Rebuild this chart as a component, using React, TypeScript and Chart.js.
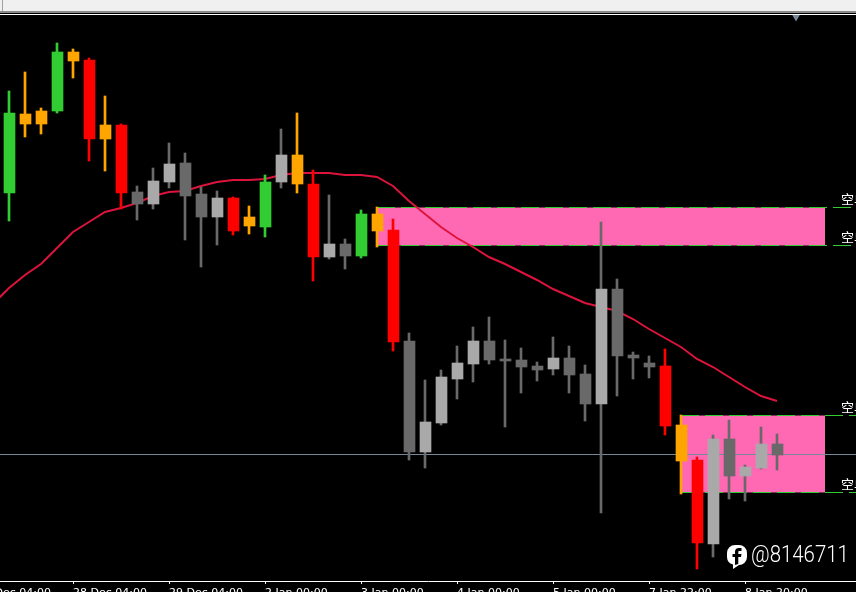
import React, { useEffect, useRef } from "react";
import { Chart, registerables } from "chart.js";

Chart.register(...registerables);

const LIME = "#32cd32";
const ORANGE = "#ffa500";
const RED = "#ff0000";
const DIM = "#696969";
const DARK = "#a9a9a9";
const CRIMSON = "#dc143c";
const SLATE = "#778899";

const bodyHigh = [468,467,470,529,529,521,456,456,389,400,417,418,387,383,383,364,399,426,426,397,337,337,367,367,351,240,159,204,218,240,240,222,221,215,223,223,207,292,292,226,218,215,156,121,142,142,114,137,137];
const bodyLow = [388,457,457,470,520,442,442,388,377,377,399,385,364,364,350,355,354,399,397,324,324,325,325,350,239,129,129,158,202,217,221,220,214,211,212,206,177,177,225,223,214,155,120,38,37,105,105,113,126];
const wickHigh = [490,509,473,538,532,523,485,457,395,413,438,428,394,390,384,375,406,452,468,411,386,342,371,374,362,248,201,211,235,254,264,241,233,219,244,235,216,359,302,229,225,232,166,124,146,161,116,154,147];
const wickLow = [360,444,447,468,503,420,410,372,361,372,393,341,314,336,346,347,344,393,388,300,322,312,323,334,230,121,113,156,182,199,217,154,188,200,206,188,160,68,185,202,203,146,87,12,24,82,80,112,111];
const candleColors = [LIME,ORANGE,ORANGE,LIME,ORANGE,RED,ORANGE,RED,DIM,DARK,DARK,DIM,DIM,DARK,RED,ORANGE,LIME,DARK,ORANGE,RED,DARK,DIM,LIME,ORANGE,RED,DIM,DARK,DARK,DARK,DARK,DIM,DIM,DIM,DIM,DARK,DIM,DIM,DARK,DIM,DIM,DIM,RED,ORANGE,RED,DARK,DIM,DARK,DARK,DIM];
const movingAverage = [277,293,306,317,333,349,359,369,373,378,385,389,390,395,399,401,401,402,406,408,408,408,406,406,404,395,380,367,354,343,334,324,317,309,301,292,285,278,274,270,262,252,243,234,222,214,204,194,185,180];

const tickIndexes = [-2, 4, 10, 16, 22, 28, 34, 40, 46];
const tickLabels = ["27 Dec 04:00","28 Dec 04:00","29 Dec 04:00","2 Jan 00:00","3 Jan 00:00","4 Jan 00:00","5 Jan 00:00","7 Jan 22:00","8 Jan 20:00"];

const zoneOneStart = 23;
const zoneTwoStart = 42;
const zoneEnd = 51;
const levelEnd = 53;
const zoneOneTop = 373.5;
const zoneOneBottom = 335.5;
const zoneTwoTop = 165.5;
const zoneTwoBottom = 88.5;
const bidLevel = 126.5;
const shiftMarkerIndex = 49.19;
const shiftMarkerLevel = 566.5;
const levelLabels = [zoneOneTop, zoneOneBottom, zoneTwoTop, zoneTwoBottom];
const levelLabelText = "空单";
const levelLabelIndex = 52;
const bodyCentreShift = 0.03125;

const wickColors = candleColors.map((c) => (c === DARK ? DIM : c));

const zone = (start: number, top: number, bottom: number) => ({
  type: "line" as const,
  data: [{ x: start, y: top }, { x: zoneEnd, y: top }],
  fill: { value: bottom },
  backgroundColor: "#ff69b4",
  borderWidth: 0,
  pointRadius: 0,
  order: 10,
});

const level = (start: number, y: number) => ({
  type: "line" as const,
  data: [{ x: start, y }, { x: levelEnd, y }],
  borderColor: LIME,
  borderWidth: 1,
  borderDash: [18, 6],
  pointRadius: 0,
  fill: false,
  order: 8,
});

const labelPlugin = {
  id: "levelLabels",
  afterDatasetsDraw(chart: any) {
    const { ctx, scales } = chart;
    ctx.save();
    ctx.fillStyle = "#ffffff";
    ctx.font = '13px "Noto Sans CJK SC"';
    ctx.textAlign = "left";
    ctx.textBaseline = "alphabetic";
    levelLabels.forEach((v) => {
      ctx.fillText(levelLabelText, scales.x.getPixelForValue(levelLabelIndex), scales.y.getPixelForValue(v) - 4);
    });
    ctx.restore();
  },
};

export default function App() {
  const ref = useRef<HTMLCanvasElement>(null);
  useEffect(() => {
    document.body.style.margin = "0";
    document.body.style.background = "#000";
    const xs = bodyHigh.map((_, i) => i);
    const chart = new Chart(ref.current as HTMLCanvasElement, {
      type: "bar",
      data: {
        datasets: [
          zone(zoneOneStart, zoneOneTop, zoneOneBottom),
          zone(zoneTwoStart, zoneTwoTop, zoneTwoBottom),
          level(zoneOneStart, zoneOneTop),
          level(zoneOneStart, zoneOneBottom),
          level(zoneTwoStart, zoneTwoTop),
          level(zoneTwoStart, zoneTwoBottom),
          {
            type: "line",
            data: [{ x: -1, y: bidLevel }, { x: levelEnd, y: bidLevel }],
            borderColor: SLATE,
            borderWidth: 1,
            pointRadius: 0,
            order: 7,
          },
          {
            type: "line",
            data: movingAverage.map((y, i) => ({ x: i - 1, y })),
            borderColor: CRIMSON,
            borderWidth: 2,
            pointRadius: 0,
            tension: 0,
            order: 6,
          },
          {
            type: "bar",
            data: xs.map((x) => ({ x, y: [wickLow[x], wickHigh[x]] })),
            backgroundColor: wickColors,
            barThickness: 2,
            grouped: false,
            order: 3,
          },
          {
            type: "bar",
            data: xs.map((x) => ({ x: x + bodyCentreShift, y: [bodyLow[x], bodyHigh[x]] })),
            backgroundColor: candleColors,
            barThickness: 11,
            grouped: false,
            order: 2,
          },
          {
            type: "scatter",
            data: [{ x: shiftMarkerIndex, y: shiftMarkerLevel }],
            pointStyle: "triangle",
            rotation: 180,
            pointRadius: 7,
            backgroundColor: SLATE,
            borderWidth: 0,
            clip: false,
            order: 1,
          },
        ] as any,
      },
      options: {
        responsive: false,
        animation: false,
        layout: { autoPadding: false, padding: { top: 15, left: 0, right: 0, bottom: 0 } },
        plugins: { legend: { display: false }, tooltip: { enabled: false }, title: { display: false } },
        scales: {
          x: {
            type: "linear",
            offset: false,
            min: -0.5625,
            max: 52.9375,
            afterBuildTicks: (s: any) => {
              s.ticks = tickIndexes.map((value) => ({ value }));
            },
            afterFit: (s: any) => {
              s.paddingLeft = 0;
              s.paddingRight = 0;
              s.height = 11;
            },
            grid: { display: true, offset: false, drawOnChartArea: false, drawTicks: true, tickLength: 3, color: "#ffffff" },
            border: { display: true, color: "#ffffff" },
            ticks: {
              autoSkip: false,
              maxRotation: 0,
              minRotation: 0,
              align: "start",
              padding: 3,
              color: "#ffffff",
              font: { family: "DejaVu Sans", size: 11 },
              callback: (_v: any, i: number) => tickLabels[i],
            },
          },
          y: {
            type: "linear",
            display: false,
            min: 0,
            max: 566,
            afterFit: (s: any) => {
              s.width = 0;
              s.paddingLeft = 0;
              s.paddingRight = 0;
            },
          },
        },
      } as any,
      plugins: [labelPlugin],
    });
    return () => chart.destroy();
  }, []);

  return (
    <div style={{ position: "fixed", left: 0, top: 0, width: 856, height: 592, background: "#000", overflow: "hidden" }}>
      <canvas ref={ref} width={856} height={592} style={{ position: "absolute", left: 0, top: 0, display: "block" }} />
      <div style={{ position: "absolute", left: 0, top: 0, width: 856, height: 11, background: "#f0f0f0" }} />
      <div style={{ position: "absolute", left: 2, top: 0, width: 1, height: 11, background: "#a0a0a0" }} />
      <div style={{ position: "absolute", left: 0, top: 11, width: 856, height: 2, background: "#8a8a8a" }} />
      <div style={{ position: "absolute", left: 0, top: 13, width: 856, height: 1, background: "#000000" }} />
      <div style={{ position: "absolute", left: 0, top: 14, width: 856, height: 1, background: "#ffffff" }} />
      <svg width="22" height="26" viewBox="0 0 22 26" style={{ position: "absolute", left: 726, top: 544 }}>
        <path d="M9 1 H13 A8 8 0 0 1 21 9 V13 A8 8 0 0 1 13 21 L7 25 V20.5 A8 8 0 0 1 1 13 V9 A8 8 0 0 1 9 1 Z" fill="#fff" />
        <path d="M9 21 V13 H6.5 V10 H9 V7.5 C9 5 11 4 13 4 H15.5 V7 H13.5 C12.5 7 12.3 7.5 12.3 8.3 V10 H15.5 L15 13 H12.3 V20 Z" fill="#000" />
      </svg>
      <div style={{ position: "absolute", left: 751, top: 538, fontFamily: "Roboto", fontWeight: 300, fontSize: 24, lineHeight: "32px", color: "#fff", whiteSpace: "nowrap", transform: "scaleX(0.85)", transformOrigin: "left top" }}>
        @8146711
      </div>
    </div>
  );
}
